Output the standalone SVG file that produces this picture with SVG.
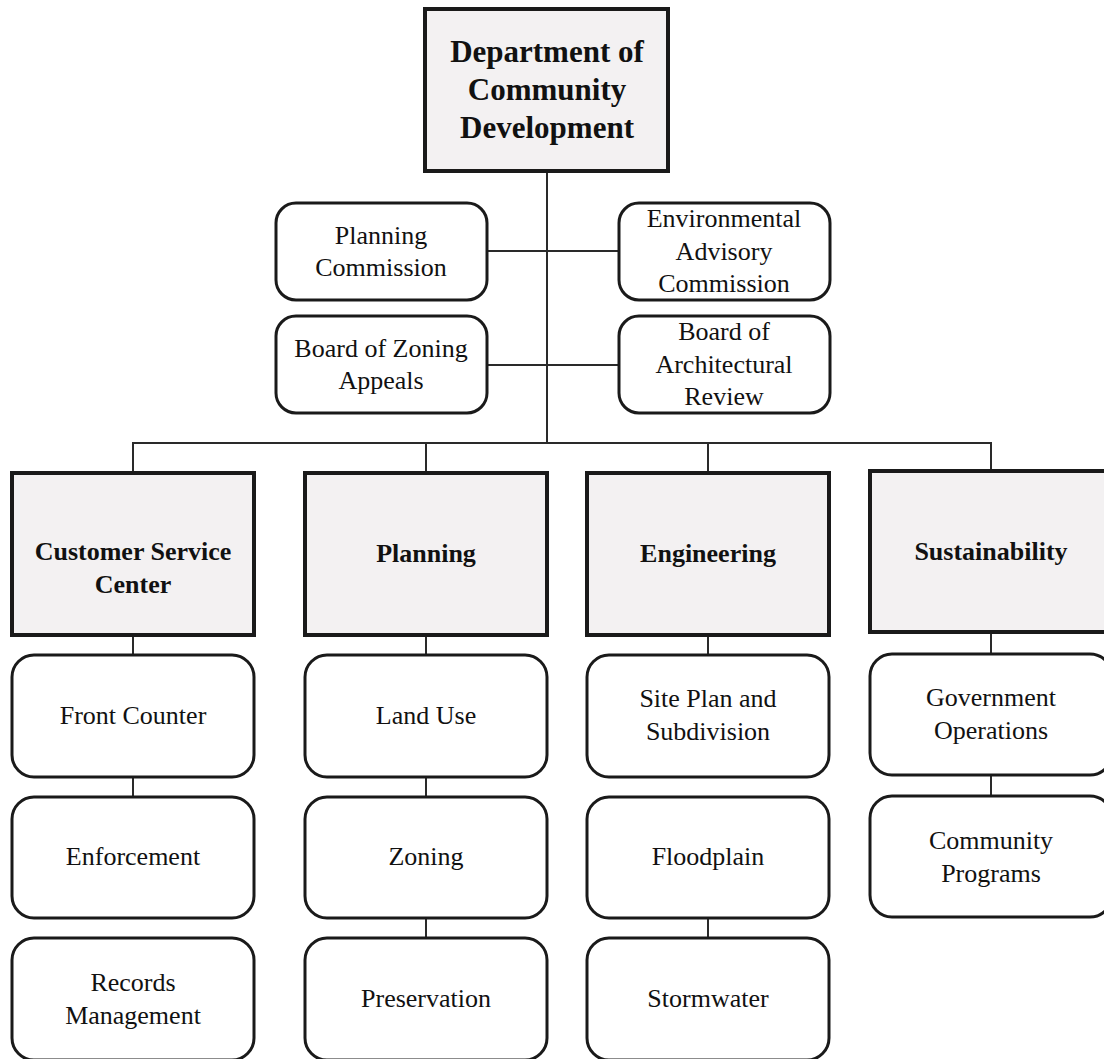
<svg xmlns="http://www.w3.org/2000/svg" width="1104" height="1059" viewBox="0 0 1104 1059">
  <style>
    .bg { fill: #ffffff; }
    .head { fill: #f3f1f2; stroke: #1a1a1a; stroke-width: 4; }
    .unit { fill: #ffffff; stroke: #1a1a1a; stroke-width: 3; }
    .link { fill: none; stroke: #2a2a2a; stroke-width: 2; }
    text { font-family: "Liberation Serif", "Times New Roman", serif; fill: #111111; text-anchor: middle; }
    .t-top { font-size: 31px; font-weight: bold; }
    .t-dept { font-size: 26px; font-weight: bold; }
    .t-unit { font-size: 26px; }
  </style>
  <rect class="bg" x="0" y="0" width="1104" height="1059"/>

  <!-- connectors -->
  <g id="connectors">
    <path class="link" d="M547 171 V443"/>
    <path class="link" d="M487 251 H619"/>
    <path class="link" d="M487 365 H619"/>
    <path class="link" d="M133 473 V443 H991 V471"/>
    <path class="link" d="M426 443 V473"/>
    <path class="link" d="M708 443 V473"/>
    <path class="link" d="M133 635 V655"/>
    <path class="link" d="M133 777 V797"/>
    <path class="link" d="M426 635 V655"/>
    <path class="link" d="M426 777 V797"/>
    <path class="link" d="M426 918 V938"/>
    <path class="link" d="M708 635 V655"/>
    <path class="link" d="M708 918 V938"/>
    <path class="link" d="M991 632 V654"/>
    <path class="link" d="M991 775 V796"/>
  </g>

  <!-- top -->
  <g id="dept-community-development">
    <rect class="head" x="425" y="9" width="243" height="162"/>
    <text class="t-top" x="547" y="62">Department of</text>
    <text class="t-top" x="547" y="100">Community</text>
    <text class="t-top" x="547" y="138">Development</text>
  </g>

  <!-- commissions and boards -->
  <g id="planning-commission">
    <rect class="unit" x="276" y="203" width="211" height="97" rx="20"/>
    <text class="t-unit" x="381" y="244">Planning</text>
    <text class="t-unit" x="381" y="276">Commission</text>
  </g>
  <g id="environmental-advisory-commission">
    <rect class="unit" x="619" y="203" width="211" height="97" rx="20"/>
    <text class="t-unit" x="724" y="227">Environmental</text>
    <text class="t-unit" x="724" y="260">Advisory</text>
    <text class="t-unit" x="724" y="292">Commission</text>
  </g>
  <g id="board-of-zoning-appeals">
    <rect class="unit" x="276" y="316" width="211" height="97" rx="20"/>
    <text class="t-unit" x="381" y="357">Board of Zoning</text>
    <text class="t-unit" x="381" y="389">Appeals</text>
  </g>
  <g id="board-of-architectural-review">
    <rect class="unit" x="619" y="316" width="211" height="97" rx="20"/>
    <text class="t-unit" x="724" y="340">Board of</text>
    <text class="t-unit" x="724" y="373">Architectural</text>
    <text class="t-unit" x="724" y="405">Review</text>
  </g>

  <!-- divisions -->
  <g id="customer-service-center">
    <rect class="head" x="12" y="473" width="242" height="162"/>
    <text class="t-dept" x="133" y="560">Customer Service</text>
    <text class="t-dept" x="133" y="593">Center</text>
  </g>
  <g id="planning">
    <rect class="head" x="305" y="473" width="242" height="162"/>
    <text class="t-dept" x="426" y="562">Planning</text>
  </g>
  <g id="engineering">
    <rect class="head" x="587" y="473" width="242" height="162"/>
    <text class="t-dept" x="708" y="562">Engineering</text>
  </g>
  <g id="sustainability">
    <rect class="head" x="870" y="471" width="242" height="161"/>
    <text class="t-dept" x="991" y="560">Sustainability</text>
  </g>

  <!-- customer service units -->
  <g id="front-counter">
    <rect class="unit" x="12" y="655" width="242" height="122" rx="22"/>
    <text class="t-unit" x="133" y="724">Front Counter</text>
  </g>
  <g id="enforcement">
    <rect class="unit" x="12" y="797" width="242" height="121" rx="22"/>
    <text class="t-unit" x="133" y="865">Enforcement</text>
  </g>
  <g id="records-management">
    <rect class="unit" x="12" y="938" width="242" height="122" rx="22"/>
    <text class="t-unit" x="133" y="991">Records</text>
    <text class="t-unit" x="133" y="1024">Management</text>
  </g>

  <!-- planning units -->
  <g id="land-use">
    <rect class="unit" x="305" y="655" width="242" height="122" rx="22"/>
    <text class="t-unit" x="426" y="724">Land Use</text>
  </g>
  <g id="zoning">
    <rect class="unit" x="305" y="797" width="242" height="121" rx="22"/>
    <text class="t-unit" x="426" y="865">Zoning</text>
  </g>
  <g id="preservation">
    <rect class="unit" x="305" y="938" width="242" height="122" rx="22"/>
    <text class="t-unit" x="426" y="1007">Preservation</text>
  </g>

  <!-- engineering units -->
  <g id="site-plan-subdivision">
    <rect class="unit" x="587" y="655" width="242" height="122" rx="22"/>
    <text class="t-unit" x="708" y="707">Site Plan and</text>
    <text class="t-unit" x="708" y="740">Subdivision</text>
  </g>
  <g id="floodplain">
    <rect class="unit" x="587" y="797" width="242" height="121" rx="22"/>
    <text class="t-unit" x="708" y="865">Floodplain</text>
  </g>
  <g id="stormwater">
    <rect class="unit" x="587" y="938" width="242" height="122" rx="22"/>
    <text class="t-unit" x="708" y="1007">Stormwater</text>
  </g>

  <!-- sustainability units -->
  <g id="government-operations">
    <rect class="unit" x="870" y="654" width="242" height="121" rx="22"/>
    <text class="t-unit" x="991" y="706">Government</text>
    <text class="t-unit" x="991" y="739">Operations</text>
  </g>
  <g id="community-programs">
    <rect class="unit" x="870" y="796" width="242" height="121" rx="22"/>
    <text class="t-unit" x="991" y="849">Community</text>
    <text class="t-unit" x="991" y="882">Programs</text>
  </g>
</svg>
